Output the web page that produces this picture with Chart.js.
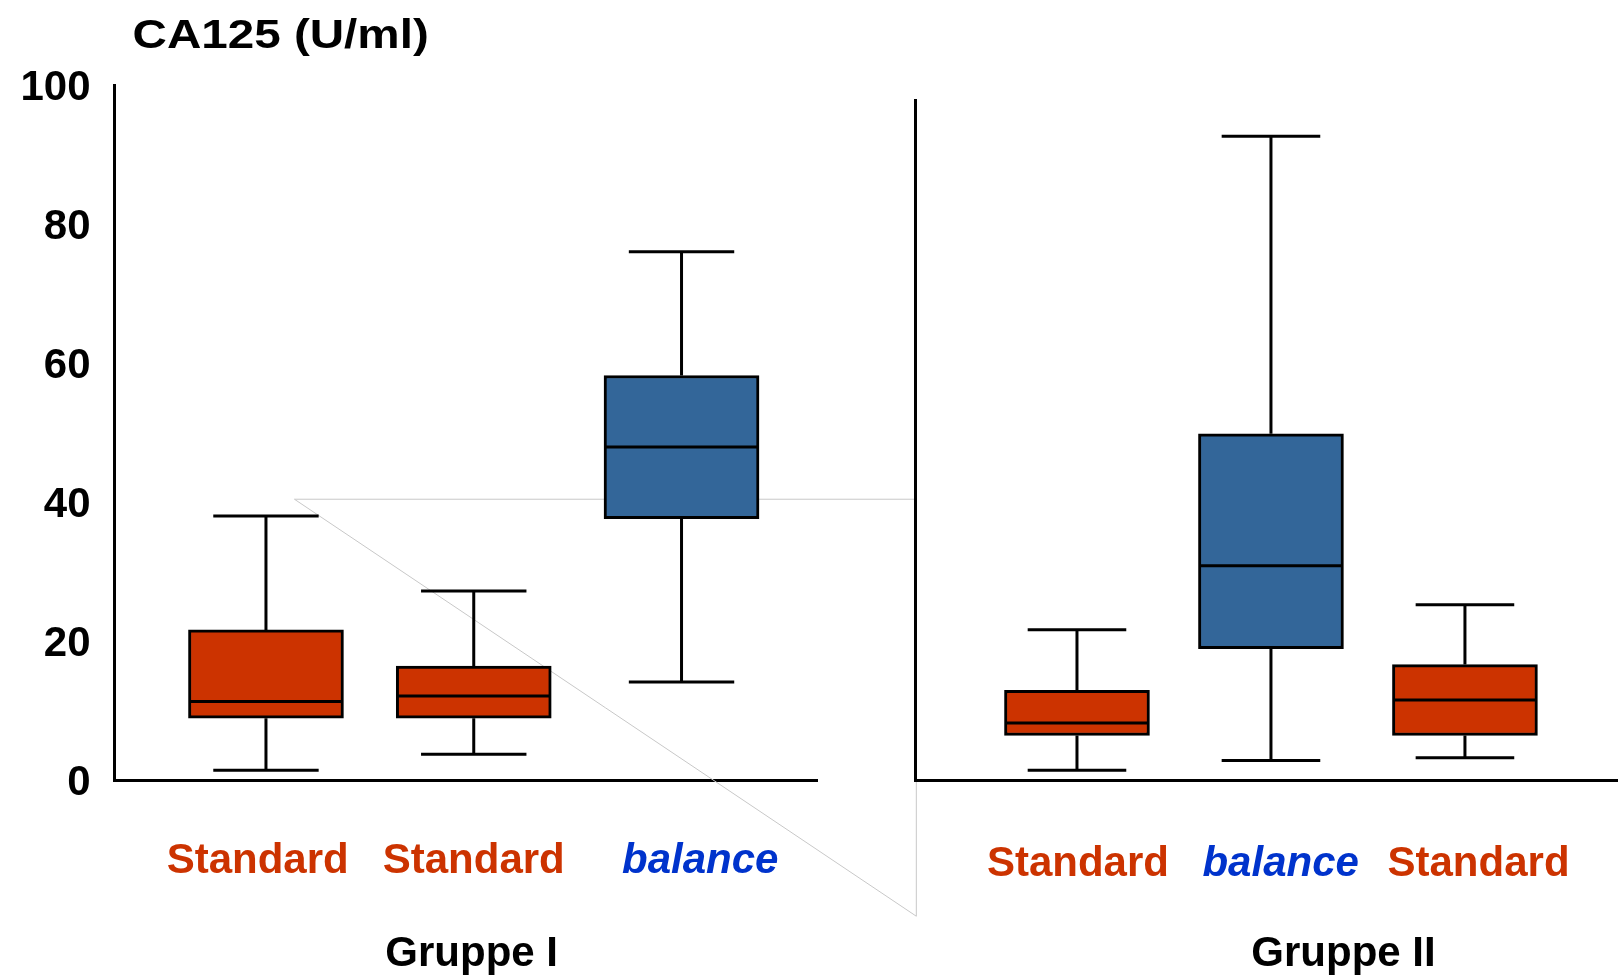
<!DOCTYPE html>
<html>
<head>
<meta charset="utf-8">
<title>CA125 (U/ml)</title>
<script src="https://cdn.jsdelivr.net/npm/chart.js@4.4.0/dist/chart.umd.min.js"></script>
<style>
  html, body { margin: 0; padding: 0; background: #fff; }
  #wrap { position: relative; width: 1618px; height: 977px; }
  #wrap canvas { position: absolute; left: 0; top: 0; }
</style>
</head>
<body>
<div id="wrap">
  <canvas id="chart-gruppe1" width="1618" height="977"></canvas>
  <canvas id="chart-gruppe2" width="1618" height="977"></canvas>
</div>
<script>
// Gruppe I
const labelsG1 = ["Standard", "Standard", "balance"];
const minG1 = [1.4, 3.7, 14.1];
const q1G1 = [8.9, 8.9, 37.6];
const medianG1 = [11.3, 12.1, 47.9];
const q3G1 = [21.6, 16.4, 58.2];
const maxG1 = [38.0, 27.2, 76.0];

// Gruppe II
const labelsG2 = ["Standard", "balance", "Standard"];
const minG2 = [1.4, 2.8, 3.2];
const q1G2 = [6.4, 18.9, 6.4];
const medianG2 = [8.2, 30.8, 11.5];
const q3G2 = [12.9, 49.8, 16.6];
const maxG2 = [21.6, 92.6, 25.2];

const yTicks = [0, 20, 40, 60, 80, 100];

const FONT = "'Liberation Sans', Arial, Helvetica, sans-serif";
const RED = "#cc3300";
const BLUE = "#336699";
const RED_TEXT = "#cc3300";
const BLUE_TEXT = "#0033cc";

const fillFor = (lbl) => lbl === "balance" ? BLUE : RED;
const textFor = (lbl) => lbl === "balance" ? BLUE_TEXT : RED_TEXT;

// whiskers + median lines, drawn through the chart scales
const whiskerPlugin = {
    id: "whiskers",
    afterDatasetsDraw(chart, args, opts) {
        const ctx = chart.ctx;
        const y = chart.scales.y;
        const meta = chart.getDatasetMeta(0);
        ctx.save();
        ctx.strokeStyle = "#000";
        ctx.lineWidth = 3;
        meta.data.forEach((bar, i) => {
            const { x, width } = bar.getProps(["x", "width"], true);
            const half = width / 2;
            const cap = width * opts.capRatio / 2;
            const pMin = y.getPixelForValue(opts.min[i]);
            const pMax = y.getPixelForValue(opts.max[i]);
            const pQ1 = y.getPixelForValue(opts.q1[i]);
            const pQ3 = y.getPixelForValue(opts.q3[i]);
            const pMed = y.getPixelForValue(opts.median[i]);
            ctx.beginPath();
            ctx.moveTo(x, pQ3); ctx.lineTo(x, pMax);
            ctx.moveTo(x - cap, pMax); ctx.lineTo(x + cap, pMax);
            ctx.moveTo(x, pQ1); ctx.lineTo(x, pMin);
            ctx.moveTo(x - cap, pMin); ctx.lineTo(x + cap, pMin);
            ctx.moveTo(x - half + 1.5, pMed); ctx.lineTo(x + half - 1.5, pMed);
            ctx.stroke();
        });
        ctx.restore();
    }
};

// thin grey callout lines of the original slide (left chart only)
const calloutPlugin = {
    id: "callout",
    beforeDatasetsDraw(chart, args, opts) {
        if (!opts.show) return;
        const ctx = chart.ctx;
        const xs = chart.scales.x, ys = chart.scales.y;
        const x0 = xs.getPixelForValue(opts.x0), y0 = ys.getPixelForValue(opts.y0);
        const x1 = xs.getPixelForValue(opts.x1), y1 = ys.getPixelForValue(opts.y1);
        ctx.save();
        ctx.strokeStyle = "#c8c8c8";
        ctx.lineWidth = 1;
        ctx.beginPath();
        ctx.moveTo(x0, y0); ctx.lineTo(x1, y0);
        ctx.moveTo(x0, y0); ctx.lineTo(x1, y1);
        ctx.moveTo(x1, chart.chartArea.bottom); ctx.lineTo(x1, y1);
        ctx.stroke();
        ctx.restore();
    }
};

// axis title and group names
const textPlugin = {
    id: "texts",
    afterDraw(chart, args, opts) {
        const ctx = chart.ctx;
        const area = chart.chartArea;
        ctx.save();
        ctx.fillStyle = "#000";
        ctx.textBaseline = "alphabetic";
        if (opts.title) {
            ctx.font = "bold 40px " + FONT;
            ctx.textAlign = "left";
            ctx.translate(area.left + 18, area.top - 37);
            ctx.scale(1.19, 1);
            ctx.fillText(opts.title, 0, 0);
            ctx.setTransform(1, 0, 0, 1, 0, 0);
        }
        ctx.font = "bold 42px " + FONT;
        ctx.textAlign = "center";
        ctx.fillText(opts.group, chart.scales.x.getPixelForValue(opts.groupPos), 966);
        ctx.restore();
    }
};

function makeChart(id, cfg) {
    return new Chart(document.getElementById(id), {
        type: "bar",
        data: {
            datasets: [{
                data: cfg.labels.map((l, i) => ({ x: i + 1, y: [cfg.q1[i], cfg.q3[i]] })),
                backgroundColor: cfg.labels.map(fillFor),
                borderColor: "#000",
                borderWidth: 3,
                borderSkipped: false,
                barThickness: cfg.boxWidth
            }]
        },
        options: {
            responsive: false,
            animation: false,
            events: [],
            layout: { padding: cfg.padding },
            plugins: {
                legend: { display: false },
                tooltip: { enabled: false },
                whiskers: { min: cfg.min, q1: cfg.q1, median: cfg.median, q3: cfg.q3, max: cfg.max, capRatio: 0.68 },
                callout: cfg.callout,
                texts: { title: cfg.title, group: cfg.group, groupPos: cfg.groupPos }
            },
            scales: {
                x: {
                    type: "linear",
                    offset: false,
                    min: cfg.xMin,
                    max: cfg.xMax,
                    afterFit: (s) => { s.height = 197; },
                    afterBuildTicks: (s) => { s.ticks = cfg.labelPos.map(v => ({ value: v })); },
                    grid: { display: false, drawTicks: true, tickLength: 50 },
                    border: { display: true, color: "#000", width: 3 },
                    ticks: {
                        autoSkip: false,
                        maxRotation: 0,
                        padding: cfg.labelPad,
                        callback: (v, i) => cfg.labels[i],
                        color: (c) => textFor(cfg.labels[c.index]),
                        font: (c) => ({
                            family: FONT, size: 42, weight: "bold",
                            style: cfg.labels[c.index] === "balance" ? "italic" : "normal"
                        })
                    }
                },
                y: {
                    min: 0,
                    max: cfg.yMax,
                    afterFit: (s) => { s.width = cfg.yWidth; },
                    afterBuildTicks: (s) => { s.ticks = yTicks.map(v => ({ value: v })); },
                    grid: { display: false, drawTicks: false },
                    border: { display: true, color: "#000", width: 3 },
                    ticks: {
                        display: cfg.showY,
                        padding: 24,
                        labelOffset: 3,
                        color: "#000",
                        font: { family: FONT, size: 42, weight: "bold" }
                    }
                }
            }
        },
        plugins: [calloutPlugin, whiskerPlugin, textPlugin]
    });
}

makeChart("chart-gruppe1", {
    labels: labelsG1, min: minG1, q1: q1G1, median: medianG1, q3: q3G1, max: maxG1,
    labelPos: [0.96, 2.0, 3.09], labelPad: 6,
    xMin: 0.271, xMax: 3.652, yMax: 100, yWidth: 100, showY: true,
    boxWidth: 155,
    padding: { left: 14.5, right: 801, top: 85, bottom: 0 },
    title: "CA125 (U/ml)", group: "Gruppe I", groupPos: 1.99,
    callout: { show: true, x0: 1.137, y0: 40.4, x1: 4.13, y1: -19.6 }
});

makeChart("chart-gruppe2", {
    labels: labelsG2, min: minG2, q1: q1G2, median: medianG2, q3: q3G2, max: maxG2,
    labelPos: [1.005, 2.05, 3.07], labelPad: 9,
    xMin: 0.165, xMax: 3.789, yMax: 97.8, yWidth: 10, showY: false,
    boxWidth: 145,
    padding: { left: 905, right: 0, top: 100, bottom: 0 },
    title: null, group: "Gruppe II", groupPos: 2.374,
    callout: { show: false }
});
</script>
</body>
</html>
